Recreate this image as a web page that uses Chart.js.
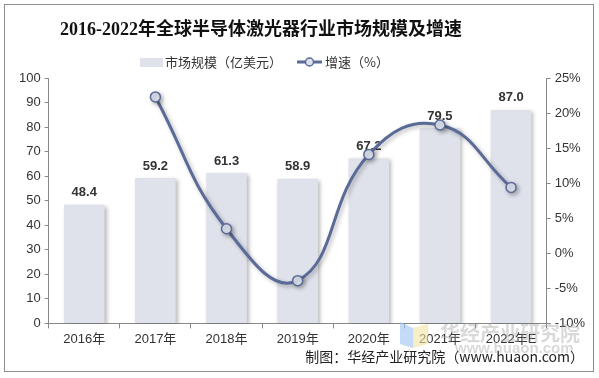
<!DOCTYPE html>
<html><head><meta charset="utf-8">
<script src="https://cdn.jsdelivr.net/npm/chart.js@4/dist/chart.umd.min.js"></script>
<style>html,body{margin:0;padding:0;background:#fff;}#wrap{width:599px;height:378px;position:relative;}</style>
</head><body><div id="wrap"><canvas id="c" width="599" height="378"></canvas></div>
<script>
const categories = ['2016年','2017年','2018年','2019年','2020年','2021年','2022年E'];
const marketSize = [48.4, 59.2, 61.3, 58.9, 67.2, 79.5, 87.0];
const growthRate = [null, 22.3, 3.5, -3.9, 14.1, 18.3, 9.4];
const titleText = '2016-2022年全球半导体激光器行业市场规模及增速';
const barLabel = '市场规模（亿美元）';
const lineLabel = '增速（%）';
const sourceText = '制图：华经产业研究院（www.huaon.com）';

const BAR_COLOR = '#dfe1eb';
const LINE_COLOR = '#5b6b97';
const SANS = "Arial, 'Liberation Sans', 'Noto Sans CJK SC', sans-serif";

const decor = {
  id: 'decor',
  beforeDraw(chart) {
    const ctx = chart.ctx;
    ctx.save();
    ctx.fillStyle = '#fff';
    ctx.fillRect(0, 0, chart.width, chart.height);
    ctx.strokeStyle = '#8c8c8c';
    ctx.lineWidth = 1;
    ctx.strokeRect(4.5, 4.5, 589, 367);
    // title
    ctx.fillStyle = '#111';
    ctx.font = "bold 18px 'Liberation Serif', 'Noto Sans CJK SC', serif";
    ctx.textAlign = 'center';
    ctx.textBaseline = 'middle';
    ctx.fillText(titleText, 261, 30);
    // legend
    ctx.font = "13px 'Noto Sans CJK SC', sans-serif";
    ctx.textAlign = 'left';
    ctx.fillStyle = BAR_COLOR;
    ctx.fillRect(140, 58, 23, 9);
    ctx.fillStyle = '#333';
    ctx.fillText(barLabel, 165, 62);
    ctx.strokeStyle = LINE_COLOR;
    ctx.lineWidth = 3;
    ctx.beginPath(); ctx.moveTo(297, 62); ctx.lineTo(322, 62); ctx.stroke();
    ctx.fillStyle = '#dde0ee';
    ctx.lineWidth = 1.5;
    ctx.beginPath(); ctx.arc(309.5, 62, 4, 0, Math.PI * 2); ctx.fill(); ctx.stroke();
    ctx.fillStyle = '#333';
    ctx.fillText(lineLabel, 325, 62);
    ctx.restore();
  },
  afterDraw(chart) {
    const ctx = chart.ctx;
    ctx.save();
    // watermark logo
    ctx.globalAlpha = 0.6;
    ctx.fillStyle = '#9cc3f2';
    ctx.beginPath(); ctx.moveTo(400, 322); ctx.lineTo(413, 328); ctx.lineTo(413, 348); ctx.lineTo(400, 344); ctx.closePath(); ctx.fill();
    ctx.fillStyle = '#f2e2a0';
    ctx.beginPath(); ctx.moveTo(413, 328); ctx.lineTo(428, 324); ctx.lineTo(428, 344); ctx.lineTo(413, 348); ctx.closePath(); ctx.fill();
    ctx.globalAlpha = 0.38;
    ctx.fillStyle = '#9a9a9a';
    ctx.font = "bold 20px 'Noto Sans CJK SC', sans-serif";
    ctx.textAlign = 'left';
    ctx.textBaseline = 'middle';
    ctx.fillText('华经产业研究院', 440, 333);
    ctx.font = "bold 15px Arial, sans-serif";
    ctx.fillText('www.huaon.com', 455, 349);
    ctx.globalAlpha = 1;
    ctx.fillStyle = '#222';
    ctx.font = "14px 'Noto Sans CJK SC', sans-serif";
    ctx.textAlign = 'right';
    ctx.fillText(sourceText, 584, 357);
    ctx.restore();
  },
  beforeDatasetDraw(chart, args) {
    const ctx = chart.ctx;
    ctx.save();
    ctx.shadowColor = 'rgba(0,0,0,0.28)';
    ctx.shadowBlur = 4;
    ctx.shadowOffsetX = 2;
    ctx.shadowOffsetY = 2;
  },
  afterDatasetDraw(chart, args) {
    chart.ctx.restore();
    if (args.index === 0) {
      const ctx = chart.ctx;
      const meta = chart.getDatasetMeta(0);
      ctx.save();
      ctx.fillStyle = '#333';
      ctx.font = "bold 13px Arial, 'Liberation Sans', sans-serif";
      ctx.textAlign = 'center';
      ctx.textBaseline = 'middle';
      meta.data.forEach((bar, i) => {
        ctx.fillText(marketSize[i].toFixed(1), bar.x, bar.y - 12);
      });
      ctx.restore();
    }
  }
};

new Chart(document.getElementById('c'), {
  data: {
    labels: categories,
    datasets: [
      {
        type: 'bar', label: barLabel, data: marketSize, yAxisID: 'y',
        backgroundColor: BAR_COLOR, barPercentage: 0.57, categoryPercentage: 1.0, order: 2
      },
      {
        type: 'line', label: lineLabel, data: growthRate, yAxisID: 'y1',
        borderColor: LINE_COLOR, borderWidth: 3, tension: 0.45,
        pointRadius: 5, pointBackgroundColor: '#dde0ee', pointBorderColor: LINE_COLOR,
        pointBorderWidth: 1.5, order: 1
      }
    ]
  },
  options: {
    responsive: false, animation: false,
    layout: { padding: { top: 78, left: 15, right: 10, bottom: 28 } },
    plugins: { legend: { display: false }, title: { display: false }, tooltip: { enabled: false } },
    scales: {
      x: {
        grid: { display: true, offset: true, drawOnChartArea: false, drawTicks: true, tickLength: 5, color: '#888' },
        border: { display: true, color: '#888' },
        ticks: { color: '#333', font: { size: 13, family: SANS }, padding: 3 }
      },
      y: {
        position: 'left', min: 0, max: 100,
        grid: { drawOnChartArea: false, drawTicks: true, tickLength: 4, color: '#888' },
        border: { display: true, color: '#888' },
        ticks: { stepSize: 10, color: '#333', font: { size: 13, family: SANS }, padding: 4 }
      },
      y1: {
        position: 'right', min: -10, max: 25,
        grid: { drawOnChartArea: false, drawTicks: true, tickLength: 4, color: '#888' },
        border: { display: true, color: '#888' },
        ticks: { stepSize: 5, color: '#333', font: { size: 13, family: SANS }, padding: 4,
                 callback: v => v + '%' }
      }
    }
  },
  plugins: [decor]
});
</script></body></html>
